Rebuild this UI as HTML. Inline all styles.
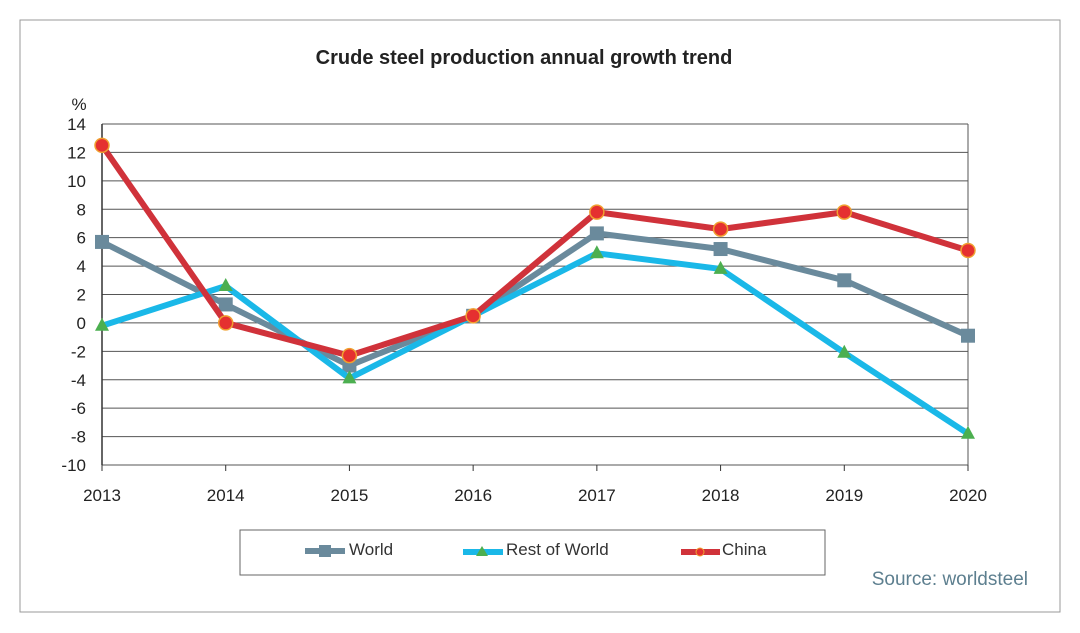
<!DOCTYPE html>
<html><head><meta charset="utf-8"><style>
body{margin:0;background:#fff;}
svg{display:block;font-family:"Liberation Sans",Arial,sans-serif;}
</style></head><body>
<svg id="chart" width="1080" height="633" viewBox="0 0 1080 633">
<rect x="20" y="20" width="1040" height="592" fill="#fff" stroke="#999" stroke-width="1"/>
<text x="524" y="64" text-anchor="middle" font-size="20" font-weight="bold" fill="#222">Crude steel production annual growth trend</text>
<text x="79" y="110" text-anchor="middle" font-size="17" fill="#222">%</text>
<g id="grid"></g><g id="series"></g>
<rect x="240" y="530" width="585" height="45" fill="#fff" stroke="#666"/>
<g>
<line x1="305" y1="551" x2="345" y2="551" stroke="#6a8a9c" stroke-width="6"/><rect x="319" y="545" width="12" height="12" fill="#6a8a9c"/>
<text x="349" y="555" font-size="17" fill="#333">World</text></g>
<g>
<line x1="463" y1="552" x2="503" y2="552" stroke="#1ab8e8" stroke-width="6"/><polygon points="482,546 488,556 476,556" fill="#4caf50"/>
<text x="506" y="555" font-size="17" fill="#333">Rest of World</text></g>
<g>
<line x1="681" y1="552" x2="720" y2="552" stroke="#d0323a" stroke-width="6"/><circle cx="700" cy="552" r="4" fill="#e53030" stroke="#f0a030"/>
<text x="722" y="555" font-size="17" fill="#333">China</text></g>
<text x="1028" y="585" text-anchor="end" font-size="19" fill="#5d7f8f">Source: worldsteel</text>
</svg>
<script>
const categories=["2013","2014","2015","2016","2017","2018","2019","2020"];
const worldValues=[5.7,1.3,-3.0,0.5,6.3,5.2,3.0,-0.9];
const restOfWorldValues=[-0.2,2.6,-3.9,0.5,4.9,3.8,-2.1,-7.8];
const chinaValues=[12.5,0.0,-2.3,0.5,7.8,6.6,7.8,5.1];
const yTicks=[14,12,10,8,6,4,2,0,-2,-4,-6,-8,-10];
const NS="http://www.w3.org/2000/svg";
const L=102,R=968,T=124,B=465,yMin=-10,yMax=14;
const x=i=>L+i*(R-L)/(categories.length-1);
const y=v=>B-(v-yMin)/(yMax-yMin)*(B-T);
function mk(tag,attrs,parent){const e=document.createElementNS(NS,tag);for(const k in attrs)e.setAttribute(k,attrs[k]);parent.appendChild(e);return e;}
const grid=document.getElementById('grid'),ser=document.getElementById('series');
yTicks.forEach(t=>{
 const ln=mk('line',{x1:L,x2:R,y1:y(t),y2:y(t),stroke:'#555','stroke-width':1},grid);
 
 
 const tx=mk('text',{x:86,y:y(t)+6,'text-anchor':'end','font-size':17,fill:'#222'},grid);
 tx.textContent=t;
 
 
});
const ax=mk('line',{x1:L,x2:L,y1:T,y2:B,stroke:'#333','stroke-width':1.5},grid);


const rx=mk('line',{x1:R,x2:R,y1:T,y2:B,stroke:'#555','stroke-width':1},grid);


categories.forEach((c,i)=>{
 const tk=mk('line',{x1:x(i),x2:x(i),y1:B,y2:B+6,stroke:'#333'},grid);
 
 
 const tx=mk('text',{x:x(i),y:B+36,'text-anchor':'middle','font-size':17,fill:'#222'},grid);
 tx.textContent=c;
 
 
});
function series(vals,color,name,marker){
 const pl=mk('polyline',{points:vals.map((v,i)=>x(i)+','+y(v)).join(' '),fill:'none',stroke:color,'stroke-width':6,'stroke-linejoin':'round'},ser);
 
 
 vals.forEach((v,i)=>{
  let m;
  if(marker==='sq')m=mk('rect',{x:x(i)-7,y:y(v)-7,width:14,height:14,fill:'#6a8a9c'},ser);
  else if(marker==='tri')m=mk('polygon',{points:`${x(i)},${y(v)-8} ${x(i)+7},${y(v)+5} ${x(i)-7},${y(v)+5}`,fill:'#4caf50'},ser);
  else m=mk('circle',{cx:x(i),cy:y(v),r:7,fill:'#e53030',stroke:'#f0a030','stroke-width':1.5},ser);
  
  
 });
}
series(worldValues,'#6a8a9c','world','sq');
series(restOfWorldValues,'#1ab8e8','rest-of-world','tri');
series(chinaValues,'#d0323a','china','circ');
</script>
</body></html>
